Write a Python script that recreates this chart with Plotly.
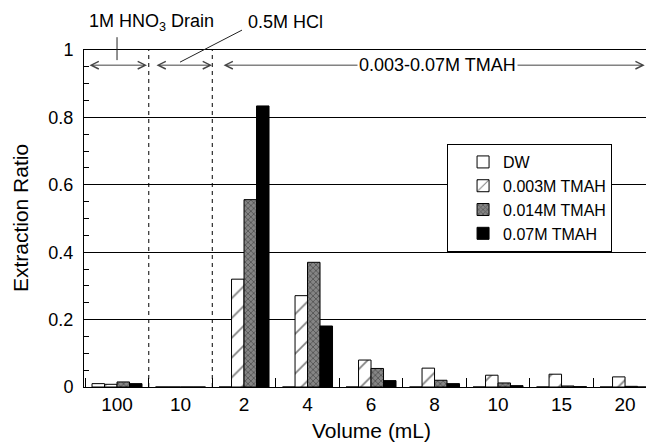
import plotly.graph_objects as go

# ---- data ----
volumes = ["100", "10", "2", "4", "6", "8", "10", "15", "20"]
dw = [0.010, 0.0, 0.0, 0.0, 0.0, 0.0, 0.0, 0.0, 0.0]
tmah_003 = [0.008, 0.0, 0.320, 0.271, 0.080, 0.056, 0.035, 0.038, 0.030]
tmah_014 = [0.015, 0.0, 0.556, 0.370, 0.055, 0.020, 0.012, 0.003, 0.002]
tmah_07 = [0.010, 0.0, 0.834, 0.181, 0.019, 0.010, 0.004, 0.001, 0.000]
series_names = ["DW", "0.003M TMAH", "0.014M TMAH", "0.07M TMAH"]
y_ticks = [0, 0.2, 0.4, 0.6, 0.8, 1]
y_tick_text = ["0", "0.2", "0.4", "0.6", "0.8", "1"]

pos = list(range(len(volumes)))
FONT = "Liberation Sans, Arial, sans-serif"
X_RANGE = [-0.52, 8.33]


def px(i):
    """category index -> paper x"""
    return (i - X_RANGE[0]) / (X_RANGE[1] - X_RANGE[0])


fig = go.Figure()
line = dict(color="black", width=1)
fig.add_trace(go.Bar(x=pos, y=dw, name=series_names[0],
                     marker=dict(color="white", line=line)))
fig.add_trace(go.Bar(x=pos, y=tmah_003, name=series_names[1],
                     marker=dict(color="white", line=line,
                                 pattern=dict(shape="/", fgcolor="black", bgcolor="white",
                                              size=14, solidity=0.12))))
fig.add_trace(go.Bar(x=pos, y=tmah_014, name=series_names[2],
                     marker=dict(color="#6e6e6e", line=line,
                                 pattern=dict(shape="x", fgcolor="#262626", bgcolor="#858585",
                                              size=4, solidity=0.4))))
fig.add_trace(go.Bar(x=pos, y=tmah_07, name=series_names[3],
                     marker=dict(color="black", line=line)))

# dashed separators between stages
for b in [0.5, 1.5]:
    fig.add_shape(type="line", xref="x", yref="y", x0=b, x1=b, y0=0, y1=1,
                  line=dict(color="black", width=1, dash="4px,4px"), layer="below")

# callout leader lines
fig.add_shape(type="line", xref="paper", yref="paper", x0=px(0.0), x1=px(0.0),
              y0=0.970, y1=1.038, line=dict(color="#222", width=1))
fig.add_shape(type="line", xref="paper", yref="paper", x0=px(0.992), x1=px(1.968),
              y0=0.964, y1=1.059, line=dict(color="#222", width=1))

ann = []
arrow_y = 0.955
arrow_col = "#444444"
for (x0, x1) in [(-0.457, 0.472), (0.598, 1.496), (1.654, 8.31)]:
    ann.append(dict(x=x1, y=arrow_y, ax=x0, ay=arrow_y, xref="x", yref="y",
                    axref="x", ayref="y", text="", showarrow=True,
                    arrowhead=5, startarrowhead=5, arrowside="end+start",
                    arrowsize=1.5, startarrowsize=1.5, arrowwidth=1, arrowcolor=arrow_col))
ann.append(dict(x=5.04, y=arrow_y, xref="x", yref="y", text="0.003-0.07M TMAH",
                xanchor="center", yanchor="middle",
                showarrow=False, bgcolor="white", font=dict(size=18, color="black", family=FONT)))
ann.append(dict(x=0.535, y=1.083, xref="x", yref="paper", text="1M HNO<sub>3</sub> Drain",
                xanchor="center", yanchor="middle",
                showarrow=False, font=dict(size=18, color="black", family=FONT)))
ann.append(dict(x=2.646, y=1.083, xref="x", yref="paper", text="0.5M HCl",
                xanchor="center", yanchor="middle",
                showarrow=False, font=dict(size=18, color="black", family=FONT)))
# axis titles
ann.append(dict(x=4.0, y=-0.128, xref="x", yref="paper", text="Volume (mL)",
                xanchor="center", yanchor="middle",
                showarrow=False, font=dict(size=21, color="black", family=FONT)))
ann.append(dict(x=-0.114, y=0.501, xref="paper", yref="paper", text="Extraction Ratio",
                xanchor="center", yanchor="middle",
                textangle=-90, showarrow=False, font=dict(size=21, color="black", family=FONT)))

fig.update_layout(
    width=646, height=446,
    margin=dict(l=84, r=0, t=50, b=59),
    paper_bgcolor="white", plot_bgcolor="white",
    barmode="group", bargap=0.213, bargroupgap=0,
    font=dict(family=FONT, size=18, color="black"),
    annotations=ann,
    legend=dict(x=0.646, y=0.721, xanchor="left", yanchor="top",
                bgcolor="white", bordercolor="black", borderwidth=1,
                font=dict(size=16, family=FONT), indentation=15,
                tracegroupgap=0),
    showlegend=True,
)
fig.update_xaxes(range=X_RANGE, tickmode="array", tickvals=pos, ticktext=volumes,
                 ticks="", showline=True, linecolor="black", linewidth=1, mirror=True,
                 showgrid=False, zeroline=False, tickfont=dict(size=19),
                 minor=dict(tickmode="linear", tick0=-0.5, dtick=1, ticks="inside",
                            ticklen=9, tickcolor="black", tickwidth=1, showgrid=False))
fig.update_yaxes(range=[0, 1], tickmode="array", tickvals=y_ticks, ticktext=y_tick_text,
                 ticks="inside", ticklen=8, tickcolor="black",
                 showline=True, linecolor="black", linewidth=1, mirror=False,
                 showgrid=True, gridcolor="black", gridwidth=1, zeroline=False,
                 tickfont=dict(size=18), ticklabelstandoff=6,
                 minor=dict(tickmode="linear", tick0=0, dtick=0.05, ticks="inside",
                            ticklen=5, tickcolor="black", tickwidth=1, showgrid=False))

fig.write_html("out.html")
